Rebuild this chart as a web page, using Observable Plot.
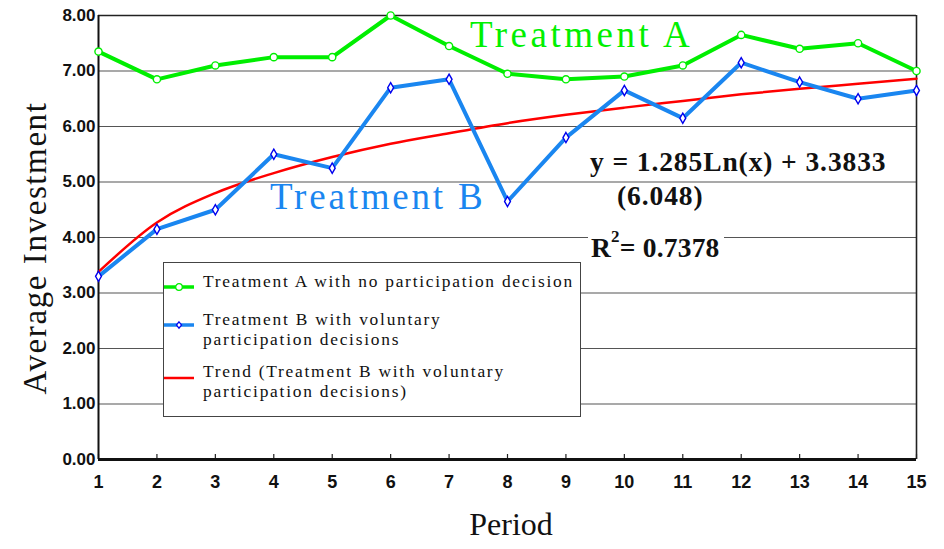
<!DOCTYPE html>
<html><head><meta charset="utf-8">
<script src="https://cdn.jsdelivr.net/npm/d3@7"></script>
<script src="https://cdn.jsdelivr.net/npm/@observablehq/plot@0.6"></script>
<style>
body{margin:0;background:#fff}
#wrap{position:relative;width:944px;height:549px;overflow:hidden;background:#fff}
#wrap svg{position:absolute;left:0;top:0}
.ov{position:absolute;white-space:nowrap}
.serif{font-family:"Liberation Serif","Times New Roman",serif}
.legend{position:absolute;left:163px;top:262px;width:418px;height:155px;border:1px solid #444;background:#fff;box-sizing:border-box}
.legend .txt{position:absolute;left:39px;font:17.4px "Liberation Serif",serif;line-height:19.5px;letter-spacing:1.75px;color:#111}
.legend svg{position:absolute;left:8px}
.eq{font-family:"Liberation Serif",serif;font-weight:bold;font-size:27.5px;letter-spacing:0.9px;color:#111}
.bg{background:#fff}
</style></head><body><div id="wrap"></div>
<script>
const periods = [1,2,3,4,5,6,7,8,9,10,11,12,13,14,15];
const treatmentA = [7.35,6.85,7.10,7.25,7.25,8.00,7.45,6.95,6.85,6.90,7.10,7.65,7.40,7.50,7.00];
const treatmentB = [3.30,4.15,4.50,5.50,5.25,6.70,6.85,4.65,5.80,6.65,6.15,7.15,6.80,6.50,6.65];
const trendB = [3.38,4.27,4.80,5.16,5.45,5.69,5.88,6.06,6.21,6.34,6.46,6.58,6.68,6.77,6.86];
const yTicks = [0,1,2,3,4,5,6,7,8];
const seriesNames = ["Treatment A with no participation decision","Treatment B with voluntary<br>participation decisions","Trend (Treatment B with voluntary<br>participation decisions)"];
const labelA = "Treatment A", labelB = "Treatment B";
const eqLine1 = "y = 1.285Ln(x) + 3.3833", eqLine2 = "(6.048)", r2Html = 'R<sup style="font-size:17px;vertical-align:0;position:relative;top:-15px;">2</sup>= 0.7378';
const xTitle = "Period", yTitle = "Average Investment";

const green = "#00ee00", blue = "#1a86f0", red = "#ff0000", mblue = "#0000ee";
const A = periods.map((p,i)=>({period:p,value:treatmentA[i]}));
const B = periods.map((p,i)=>({period:p,value:treatmentB[i]}));
const T = periods.map((p,i)=>({period:p,value:trendB[i]}));
const tickFont = '"Liberation Sans Narrow","Liberation Sans",Arial,sans-serif';

const chart = Plot.plot({
  width:944, height:549,
  marginLeft:98, marginRight:28, marginTop:15, marginBottom:90,
  x:{domain:[1,15]}, y:{domain:[0,8]},
  style:{background:"transparent", fontFamily:tickFont},
  marks:[
    Plot.ruleY(yTicks.filter(d=>d>0&&d<8), {stroke:"#555", strokeWidth:1.2}),
    Plot.ruleY([8], {stroke:"#222", strokeWidth:1.6}),
    Plot.ruleX([15], {stroke:"#222", strokeWidth:1.6}),
    Plot.ruleX(periods, {x:d=>d, y1:0, y2:0.09, stroke:"#222", strokeWidth:1.2}),
    Plot.ruleX([1], {stroke:"#111", strokeWidth:2}),
    Plot.ruleY([0], {stroke:"#111", strokeWidth:3}),
    Plot.axisY(yTicks, {tickSize:0, tickPadding:3, tickFormat:d3.format(".2f"), fontSize:17, fontWeight:"bold", fill:"#111", label:null}),
    Plot.axisX(periods, {tickSize:0, tickPadding:16, tickFormat:d=>String(d), fontSize:18, fontWeight:"bold", fill:"#111", label:null}),
    Plot.line(T, {x:"period", y:"value", stroke:red, strokeWidth:2.5, curve:"monotone-x"}),
    Plot.line(A, {x:"period", y:"value", stroke:green, strokeWidth:4}),
    Plot.line(B, {x:"period", y:"value", stroke:blue, strokeWidth:4}),
    Plot.dot(A, {x:"period", y:"value", symbol:"circle", r:3.6, fill:"white", stroke:green, strokeWidth:1.4}),
    Plot.dot(B, {x:"period", y:"value", symbol:"diamond", r:3.1, fill:"white", stroke:mblue, strokeWidth:1.4})
  ]
});
const wrap = document.getElementById("wrap");
wrap.appendChild(chart);

function ov(html, css, cls){const d=document.createElement("div");d.className="ov "+(cls||"");d.innerHTML=html;d.style.cssText+=css;wrap.appendChild(d);return d;}
// axis titles
ov(yTitle, "left:35px;top:248px;transform:translate(-50%,-50%) rotate(-90deg);font-size:33px;letter-spacing:1.6px;color:#111;", "serif");
ov(xTitle, "left:511px;top:524px;transform:translate(-50%,-50%);font-size:32px;color:#111;", "serif");
// series labels
ov(labelA, "left:470px;top:13px;font-size:37px;letter-spacing:3.5px;color:#00f000;", "serif");
ov(labelB, "left:270px;top:175px;font-size:37px;letter-spacing:2.8px;color:"+blue+";", "serif");
// equation
ov(eqLine1, "left:587px;top:147px;padding:0 6px 0 3px;line-height:30px;", "eq bg");
ov(eqLine2, "left:617px;top:181px;line-height:30px;", "eq");
ov(r2Html, "left:588px;top:233px;padding:0 4px 0 3px;line-height:30px;letter-spacing:0.2px;", "eq bg");
// legend
const lg = document.createElement("div"); lg.className="legend"; wrap.appendChild(lg);
const sw = [
  {top:19, color:green, sym:"circle"},
  {top:57, color:blue, sym:"diamond"},
  {top:110, color:red, sym:null}
];
const tops = [9, 47, 99];
seriesNames.forEach((n,i)=>{
  const t=document.createElement("div"); t.className="txt"; t.style.top=tops[i]+"px"; t.innerHTML=n; lg.appendChild(t);
  const s=sw[i];
  let m="";
  if(s.sym==="circle") m=`<circle cx="15" cy="5" r="3.3" fill="white" stroke="${s.color}" stroke-width="1.3"/>`;
  if(s.sym==="diamond") m=`<path d="M15,1.8L17.6,5L15,8.2L12.4,5Z" fill="white" stroke="${mblue}" stroke-width="1.2"/>`;
  const svg=`<svg width="30" height="10" style="top:${s.top}px"><line x1="0" x2="30" y1="5" y2="5" stroke="${s.color}" stroke-width="${s.sym?3.5:2.5}"/>${m}</svg>`;
  lg.insertAdjacentHTML("beforeend", svg);
});
</script></body></html>
